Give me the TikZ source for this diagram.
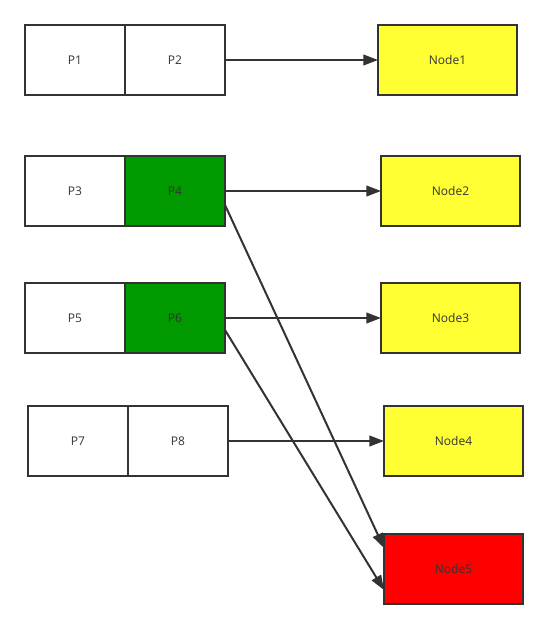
\documentclass[tikz,border=0pt]{standalone}
\usepackage{fontspec}
\setmainfont{Open Sans}
\usetikzlibrary{arrows.meta,calc}
\definecolor{ink}{HTML}{333333}
\definecolor{pgreen}{HTML}{009900}
\definecolor{nyellow}{HTML}{FFFF33}
\definecolor{nred}{HTML}{FF0000}
\tikzset{
  cell/.style={draw=ink, line width=1.5pt, minimum width=75pt, minimum height=52.5pt,
    inner sep=0pt, outer sep=0pt, text=ink, font=\fontsize{9}{11}\selectfont},
  tgt/.style={cell, minimum width=104.25pt},
  link/.style={draw=ink, line width=1.5pt, -{Triangle[length=11pt,width=8pt]}}
}
\begin{document}
\begin{tikzpicture}[x=0.75pt,y=-0.75pt]
\useasboundingbox (0,0) rectangle (548,629);
% row 1
\node[cell] (p1) at (75,60) {P1};
\node[cell] (p2) at (175,60) {P2};
\node[tgt, fill=nyellow] (n1) at (447.5,60) {Node1};
% row 2
\node[cell] (p3) at (75,191) {P3};
\node[cell, fill=pgreen] (p4) at (175,191) {P4};
\node[tgt, fill=nyellow] (n2) at (450.5,191) {Node2};
% row 3
\node[cell] (p5) at (75,318) {P5};
\node[cell, fill=pgreen] (p6) at (175,318) {P6};
\node[tgt, fill=nyellow] (n3) at (450.5,318) {Node3};
% row 4
\node[cell] (p7) at (78,441) {P7};
\node[cell] (p8) at (178,441) {P8};
\node[tgt, fill=nyellow] (n4) at (453.5,441) {Node4};
% row 5
\node[tgt, fill=nred] (n5) at (453.5,569) {Node5};
% connectors
\draw[link] (p2.east) -- (n1.west);
\draw[link] (p4.east) -- (n2.west);
\draw[link] (p6.east) -- (n3.west);
\draw[link] (p8.east) -- (n4.west);
\coordinate (a4) at ($(p4.east)+(0,14)$);
\coordinate (a6) at ($(p6.east)+(0,12)$);
\coordinate (e1) at ($(n5.north west)+(0,14)$);
\coordinate (e2) at ($(n5.west)+(0,21)$);
\draw[link] (a4) -- (e1);
\draw[link] (a6) -- (e2);
\end{tikzpicture}
\end{document}
